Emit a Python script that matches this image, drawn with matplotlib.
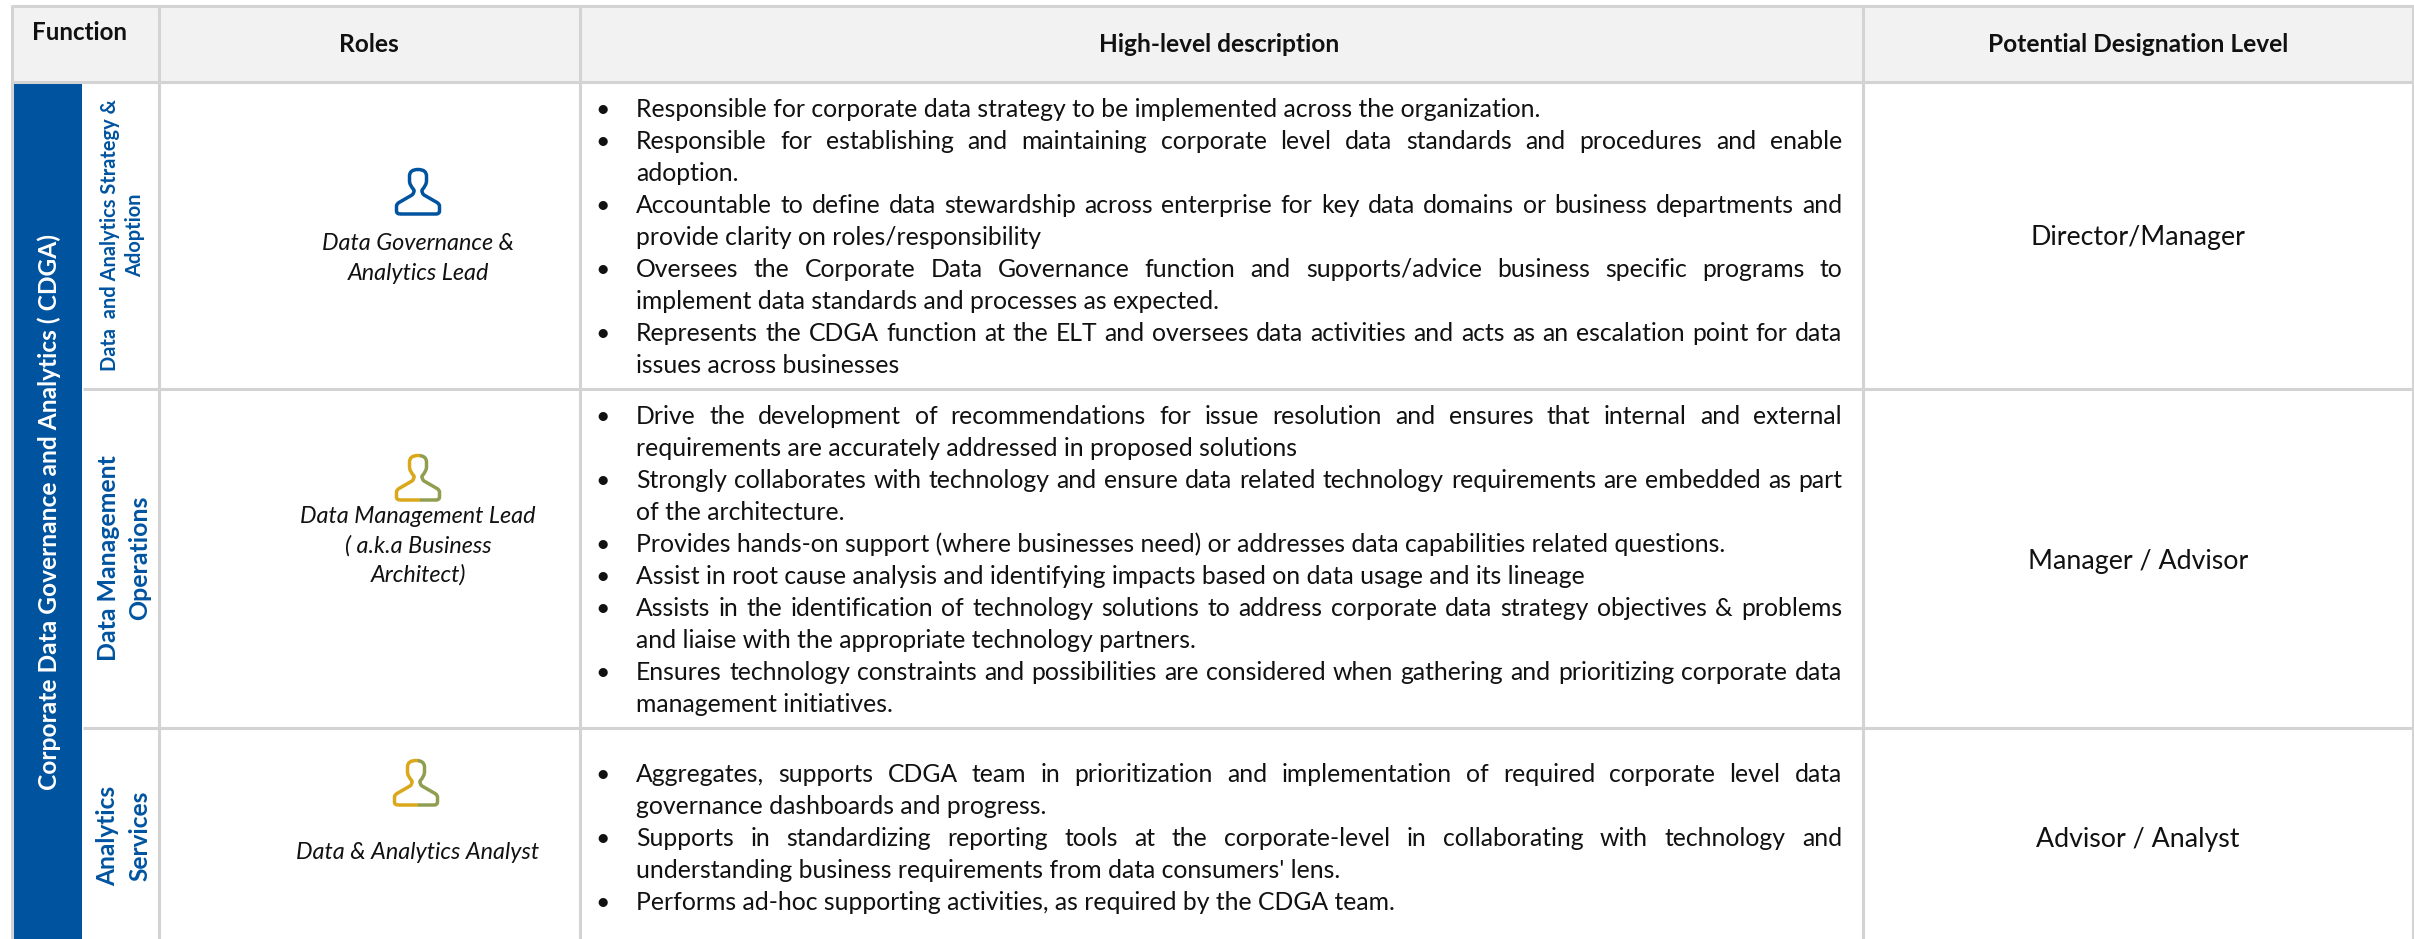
from __future__ import annotations

import matplotlib

matplotlib.use("Agg")

import matplotlib.pyplot as plt
from matplotlib.patches import PathPatch, Rectangle
from matplotlib.path import Path

WIDTH = 2414
HEIGHT = 939

HEADERS = ["Roles", "High-level description", "Potential Designation Level"]
FUNCTION_HEADER = "Function"
FUNCTION_NAME = "Corporate Data Governance and Analytics ( CDGA)"

GROUP_LABELS = [
    ["Data  and Analytics Strategy &", "Adoption"],
    ["Data Management", "Operations"],
    ["Analytics", "Services"],
]
ROLE_LABELS = [
    ["Data Governance &", "Analytics Lead"],
    ["Data Management Lead", "( a.k.a Business", "Architect)"],
    ["Data & Analytics Analyst"],
]
LEVELS = ["Director/Manager", "Manager / Advisor", "Advisor / Analyst"]

# every bullet is a list of its wrapped lines, all but the last one are justified
DESCRIPTIONS = [
    [
        ["Responsible for corporate data strategy to be implemented across the organization."],
        [
            "Responsible for establishing and maintaining corporate level data standards and procedures and enable",
            "adoption.",
        ],
        [
            "Accountable to define data stewardship across enterprise for key data domains or business departments and",
            "provide clarity on roles/responsibility",
        ],
        [
            "Oversees the Corporate Data Governance function and supports/advice business specific programs to",
            "implement data standards and processes as expected.",
        ],
        [
            "Represents the CDGA function at the ELT and oversees data activities and acts as an escalation point for data",
            "issues across businesses",
        ],
    ],
    [
        [
            "Drive the development of recommendations for issue resolution and ensures that internal and external",
            "requirements are accurately addressed in proposed solutions",
        ],
        [
            "Strongly collaborates with technology and ensure data related technology requirements are embedded as part",
            "of the architecture.",
        ],
        ["Provides hands-on support (where businesses need) or addresses data capabilities related questions."],
        ["Assist in root cause analysis and identifying impacts based on data usage and its lineage"],
        [
            "Assists in the identification of technology solutions to address corporate data strategy objectives & problems",
            "and liaise with the appropriate technology partners.",
        ],
        [
            "Ensures technology constraints and possibilities are considered when gathering and prioritizing corporate data",
            "management initiatives.",
        ],
    ],
    [
        [
            "Aggregates, supports CDGA team in prioritization and implementation of required corporate level data",
            "governance dashboards and progress.",
        ],
        [
            "Supports in standardizing reporting tools at the corporate-level in collaborating with technology and",
            "understanding business requirements from data consumers' lens.",
        ],
        ["Performs ad-hoc supporting activities, as required by the CDGA team."],
    ],
]

FONT = "Lato"
BLUE = "#00539F"
GRID = "#D3D3D3"
HEADER_FILL = "#F2F2F2"
GOLD = "#DBA81B"
GREEN = "#8F9F4F"

COLUMN_LINES = [159, 580, 1862.5]
ROW_LINES = [388.5, 727.5]
HEADER_Y = 81.5

# layout per row
DESC_FIRST_CENTER = [109, 416, 774]
LINE_STEP = 32
LEVEL_Y = [238, 561, 840]
ICON_POS = [(418, 168), (418, 454), (416, 759)]
ICON_COLORS = [(BLUE, BLUE), (GOLD, GREEN), (GOLD, GREEN)]
ROLE_Y = [[244, 274], [516.5, 546, 575], [852.5]]
GROUP_POS = [
    [(110, 235), (135, 235)],
    [(108, 558), (140, 558)],
    [(108, 836), (140, 836)],
]


def text_width(ax, renderer, text, size, **kwargs):
    probe = ax.text(0, 0, text, fontsize=size, family=FONT, **kwargs)
    width = probe.get_window_extent(renderer).width
    probe.remove()
    return width


def size_for_width(ax, renderer, text, target, **kwargs):
    return 20 * target / text_width(ax, renderer, text, 20, **kwargs)


def draw_justified(ax, renderer, line, left, right, baseline, size):
    words = line.split()
    widths = [text_width(ax, renderer, word, size) for word in words]
    gap = (right - left - sum(widths)) / (len(words) - 1)
    x = left
    for word, width in zip(words, widths):
        ax.text(x, baseline, word, fontsize=size, family=FONT, color="#111111", ha="left", va="baseline")
        x += width + gap


def draw_icon(ax, cx, top, left_color, right_color):
    # outline of the person symbol, offsets in pixels from the top centre
    vertices = [
        (-18, 46), (18, 46), (21.5, 46), (21.5, 43), (21.5, 38), (21.5, 36), (19, 34.5), (6, 27),
        (3.5, 25), (4, 22), (8.5, 17), (8.5, 13), (8.5, 8), (8.5, 1.5), (0, 1.5),
        (-8.5, 1.5), (-8.5, 8), (-8.5, 13), (-8.5, 17), (-4, 22), (-3.5, 25), (-6, 27),
        (-19, 34.5), (-21.5, 36), (-21.5, 38), (-21.5, 43), (-21.5, 46), (-18, 46),
    ]
    codes = [
        Path.MOVETO, Path.LINETO, Path.CURVE3, Path.CURVE3, Path.LINETO, Path.CURVE3, Path.CURVE3, Path.LINETO,
        Path.CURVE3, Path.CURVE3, Path.CURVE3, Path.CURVE3, Path.LINETO, Path.CURVE3, Path.CURVE3,
        Path.CURVE3, Path.CURVE3, Path.LINETO, Path.CURVE3, Path.CURVE3, Path.CURVE3, Path.CURVE3,
        Path.LINETO, Path.CURVE3, Path.CURVE3, Path.LINETO, Path.CURVE3, Path.CURVE3,
    ]
    outline = Path([(cx + x, top + y) for x, y in vertices], codes)
    split = cx + 2
    for color, x0, x1 in [(left_color, cx - 30, split), (right_color, split, cx + 30)]:
        patch = PathPatch(outline, facecolor="none", edgecolor=color, linewidth=2.5, joinstyle="round")
        ax.add_patch(patch)
        patch.set_clip_path(Rectangle((x0, top - 5), x1 - x0, 60, transform=ax.transData))


def main() -> None:
    fig = plt.figure(figsize=(WIDTH / 100, HEIGHT / 100), dpi=100)
    ax = fig.add_axes((0, 0, 1, 1))
    ax.set_xlim(0, WIDTH)
    ax.set_ylim(HEIGHT, 0)
    ax.axis("off")
    renderer = fig.canvas.get_renderer()

    # table frame
    ax.add_patch(Rectangle((11, 5), WIDTH - 11, HEADER_Y - 5, facecolor=HEADER_FILL, edgecolor="none"))
    ax.add_patch(Rectangle((13, HEADER_Y), 69, HEIGHT - HEADER_Y, facecolor=BLUE, edgecolor="none"))
    line_style = {"color": GRID, "linewidth": 2.2, "solid_capstyle": "butt"}
    ax.plot([11.5, WIDTH], [5.5, 5.5], **line_style)
    ax.plot([11.5, WIDTH], [HEADER_Y, HEADER_Y], **line_style)
    ax.plot([11.5, 11.5], [4.5, HEIGHT], **line_style)
    ax.plot([WIDTH - 1, WIDTH - 1], [4.5, HEIGHT], **line_style)
    for x in COLUMN_LINES:
        ax.plot([x, x], [4.5, HEIGHT], **line_style)
    for y in ROW_LINES:
        ax.plot([83, WIDTH], [y, y], **line_style)

    # header
    header_size = size_for_width(ax, renderer, HEADERS[2], 300, weight="bold")
    header_x = [369, 1219, 2138]
    for x, label in zip(header_x, HEADERS):
        ax.text(x, 45, label, fontsize=header_size, family=FONT, weight="bold", color="#111111", ha="center", va="center")
    ax.text(79, 33, FUNCTION_HEADER, fontsize=size_for_width(ax, renderer, FUNCTION_HEADER, 95, weight="bold"),
            family=FONT, weight="bold", color="#111111", ha="center", va="center")

    # vertical labels
    ax.text(49, 512, FUNCTION_NAME, fontsize=size_for_width(ax, renderer, FUNCTION_NAME, 554, weight="bold"),
            family=FONT, weight="bold", color="white", rotation=90, ha="center", va="center")
    group_sizes = [
        size_for_width(ax, renderer, GROUP_LABELS[0][0], 272, weight="bold"),
        size_for_width(ax, renderer, GROUP_LABELS[1][0], 206, weight="bold"),
        size_for_width(ax, renderer, GROUP_LABELS[2][0], 100, weight="bold"),
    ]
    for labels, positions, size in zip(GROUP_LABELS, GROUP_POS, group_sizes):
        for label, (x, y) in zip(labels, positions):
            ax.text(x, y, label, fontsize=size, family=FONT, weight="bold", color=BLUE,
                    rotation=90, ha="center", va="center")

    # roles
    role_size = size_for_width(ax, renderer, ROLE_LABELS[1][0], 235, style="italic")
    for i, labels in enumerate(ROLE_LABELS):
        cx, top = ICON_POS[i]
        draw_icon(ax, cx, top, *ICON_COLORS[i])
        for label, y in zip(labels, ROLE_Y[i]):
            ax.text(418, y, label, fontsize=role_size, family=FONT, style="italic", color="#111111", ha="center", va="center")

    # description bullets
    body_size = size_for_width(ax, renderer, DESCRIPTIONS[0][0][0], 906)
    for bullets, first in zip(DESCRIPTIONS, DESC_FIRST_CENTER):
        y = first + 8
        for bullet in bullets:
            ax.text(603, y, "\u2022", fontsize=body_size, family=FONT, color="#111111", ha="center", va="baseline")
            for i, line in enumerate(bullet):
                if i < len(bullet) - 1:
                    draw_justified(ax, renderer, line, 636, 1842, y, body_size)
                else:
                    ax.text(636, y, line, fontsize=body_size, family=FONT, color="#111111", ha="left", va="baseline")
                y += LINE_STEP

    # designation levels
    level_size = size_for_width(ax, renderer, LEVELS[0], 215)
    for label, y in zip(LEVELS, LEVEL_Y):
        ax.text(2138, y, label, fontsize=level_size, family=FONT, color="#111111", ha="center", va="center")

    fig.savefig("out.png", dpi=100)
    plt.close(fig)


if __name__ == "__main__":
    main()
